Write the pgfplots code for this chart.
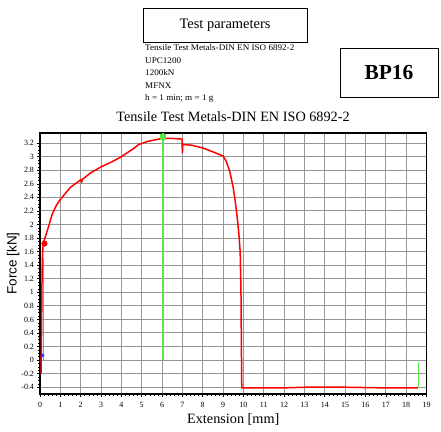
\documentclass[border=0pt]{standalone}
\usepackage{pgfplots}
\pgfplotsset{compat=1.18}
\usepackage{fontspec}
\setmainfont{Liberation Serif}
\setsansfont{Liberation Sans}
\definecolor{gridgray}{RGB}{150,150,150}
\definecolor{lgreen}{RGB}{90,230,70}
\definecolor{olivey}{RGB}{170,160,40}
\begin{document}
\begin{tikzpicture}
\useasboundingbox (0bp,0bp) rectangle (441bp,432bp);
% header boxes
\draw[line width=0.9bp] (143bp,424bp) rectangle (307bp,390bp);
\node[font=\fontsize{14.5}{16}\selectfont] at (225bp,407bp) {Test parameters};
\node[anchor=north west,font=\fontsize{8.7}{12.6}\selectfont,align=left,inner sep=0pt,xscale=1.05] at (145bp,387.5bp) {Tensile Test Metals-DIN EN ISO 6892-2\\UPC1200\\1200kN\\MFNX\\h = 1 min; m = 1 g};
\draw[line width=0.9bp] (340bp,384bp) rectangle (438bp,335bp);
\node[font=\fontsize{21.5}{23}\selectfont\bfseries] at (389bp,359.5bp) {BP16};
\node[font=\fontsize{14.3}{16}\selectfont] at (233bp,315bp) {Tensile Test Metals-DIN EN ISO 6892-2};
\begin{axis}[at={(40bp,38bp)},anchor=south west,
  width=386.5bp,height=261bp,scale only axis,
  xmin=0,xmax=19,ymin=-0.5,ymax=3.35,
  xtick={0,1,...,19},
  ytick={-0.4,-0.2,0,0.2,0.4,0.6,0.8,1,1.2,1.4,1.6,1.8,2,2.2,2.4,2.6,2.8,3,3.2},
  yticklabels={-0.4,-0.2,0,0.2,0.4,0.6,0.8,1,1.2,1.4,1.6,1.8,2,2.2,2.4,2.6,2.8,3,3.2},
  xticklabels={0,1,2,3,4,5,6,7,8,9,10,11,12,13,14,15,16,17,18,19},
  minor x tick num=4, minor y tick num=3,
  tick align=outside, tick pos=left,
  major tick length=2.5bp, minor tick length=1.5bp,
  grid=major,
  major grid style={gridgray,line width=1bp},
  axis line style={black,line width=1.2bp},
  tick style={black,line width=0.6bp},
  ticklabel style={font=\fontsize{8}{9}\selectfont},
  xticklabel style={yshift=-2bp},
  /pgf/number format/assume math mode=true,
  xlabel={Extension [mm]}, ylabel={Force [kN]},
  xlabel style={font=\fontsize{14.3}{16}\selectfont, yshift=1bp},
  ylabel style={font=\sffamily\fontsize{13.5}{15}\selectfont, yshift=-5bp},
  clip=false,
]
\addplot[olivey,line width=1bp] coordinates {(0.15,0) (0.15,1.5)};
\addplot[red,line width=1.5bp] coordinates {
(0.05,-0.2) (0.08,0.5) (0.1,1.2) (0.12,1.5) (0.15,1.72) (0.2,1.76) (0.37,1.92) (0.5,2.05) (0.61,2.16) (0.8,2.28) (1,2.37) (1.5,2.55) (2,2.66) (2.05,2.63) (2.1,2.67) (2.48,2.76) (3,2.85) (3.5,2.92) (4,3.0) (4.6,3.12) (4.85,3.18) (5.34,3.23) (6.02,3.27) (6.48,3.27) (6.98,3.26) (7.0,3.05) (7.02,3.19) (7.05,3.18) (7.45,3.17) (8,3.13) (8.6,3.06) (9,3.01) (9.16,2.93) (9.33,2.78) (9.49,2.56) (9.6,2.34) (9.7,2.09) (9.78,1.85) (9.84,1.60) (9.88,1.0) (9.9,0.2) (9.92,-0.41) (12,-0.41) (13,-0.40) (15,-0.40) (17,-0.41) (18.57,-0.41)};
\addplot[lgreen,line width=1.6bp] coordinates {(6.04,0) (6.04,3.35)};
\addplot[lgreen,line width=1.4bp] coordinates {(18.6,-0.41) (18.6,-0.03)};
\addplot[only marks,mark=*,red,mark size=2.8bp] coordinates {(0.22,1.72)};
\addplot[only marks,mark=square*,lgreen,mark size=2.5bp] coordinates {(6.04,3.3)};
\addplot[only marks,mark=*,blue!80!white,mark size=1.6bp] coordinates {(0.13,0.07)};
\end{axis}
\end{tikzpicture}
\end{document}
